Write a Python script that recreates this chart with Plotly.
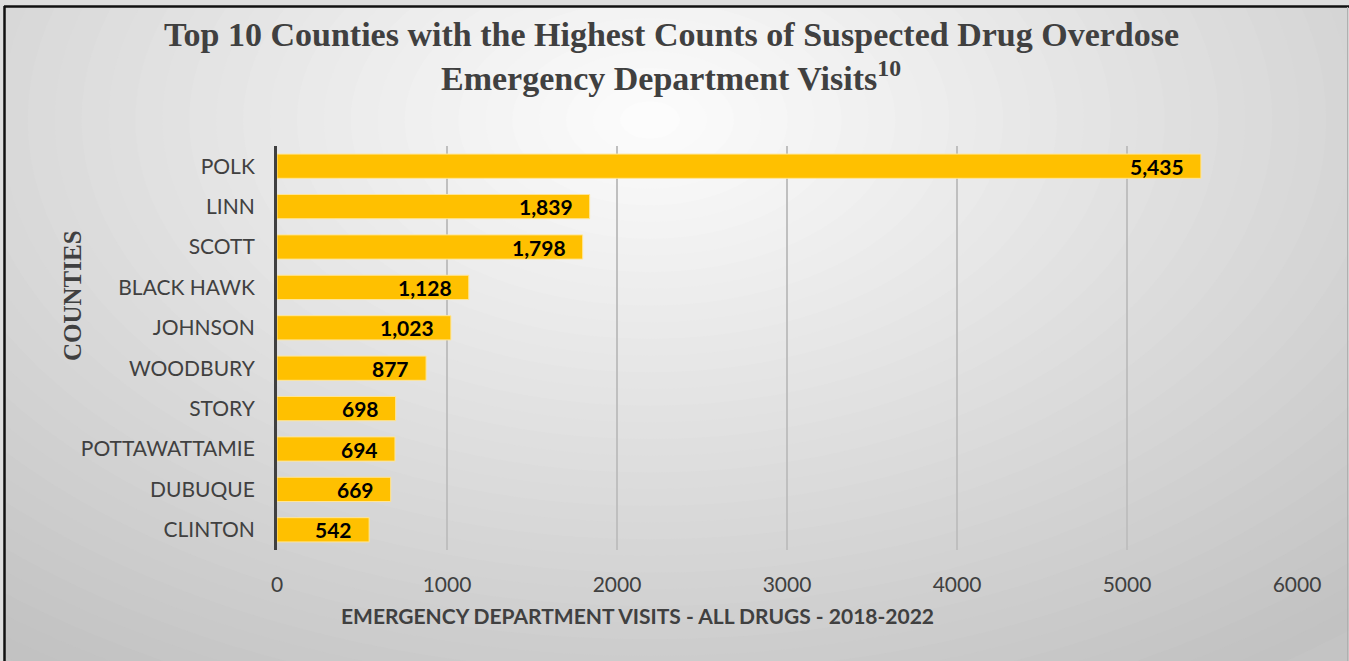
import plotly.graph_objects as go

counties = ["POLK", "LINN", "SCOTT", "BLACK HAWK", "JOHNSON", "WOODBURY",
            "STORY", "POTTAWATTAMIE", "DUBUQUE", "CLINTON"]
visits = [5435, 1839, 1798, 1128, 1023, 877, 698, 694, 669, 542]
x_ticks = [0, 1000, 2000, 3000, 4000, 5000, 6000]

W, H = 1349, 661
ML, MR, MT, MB = 277, 52, 146, 111
PW, PH = W - ML - MR, H - MT - MB


def px(x):
    return (x - ML) / PW


def py(y):
    return (H - MB - y) / PH


fig = go.Figure()
fig.add_trace(go.Bar(
    x=visits, y=counties, orientation="h",
    marker=dict(color="#FFC000", line=dict(color="#FFE699", width=1)),
    width=0.6, hoverinfo="x+y",
))

shapes = []
# radial-ish background gradient
N = 40
edge = (194, 194, 194)
center = (252, 252, 252)
cx, cy = 650, 120
for i in range(N):
    t = i / (N - 1)
    rx = 1050 * (1 - t) + 30
    ry = rx * 0.62
    c = tuple(int(edge[k] + (center[k] - edge[k]) * t) for k in range(3))
    shapes.append(dict(type="circle", xref="paper", yref="paper",
                       x0=px(cx - rx), x1=px(cx + rx), y0=py(cy + ry), y1=py(cy - ry),
                       fillcolor="rgb(%d,%d,%d)" % c, line=dict(width=0), layer="below"))
# outer frame region
shapes.append(dict(type="rect", xref="paper", yref="paper",
                   x0=px(-10), x1=px(4), y0=py(H + 10), y1=py(-10),
                   fillcolor="#dedede", line=dict(width=0), layer="below"))
shapes.append(dict(type="rect", xref="paper", yref="paper",
                   x0=px(-10), x1=px(W + 10), y0=py(6), y1=py(-10),
                   fillcolor="#dedede", line=dict(width=0), layer="below"))
shapes.append(dict(type="line", xref="paper", yref="paper",
                   x0=px(4), x1=px(W + 5), y0=py(6.5), y1=py(6.5),
                   line=dict(color="#111111", width=2.5), layer="below"))
shapes.append(dict(type="line", xref="paper", yref="paper",
                   x0=px(4.5), x1=px(4.5), y0=py(6), y1=py(H + 10),
                   line=dict(color="#111111", width=2.5), layer="below"))
shapes.append(dict(type="line", xref="paper", yref="paper",
                   x0=px(W - 1.5), x1=px(W - 1.5), y0=py(7), y1=py(H + 10),
                   line=dict(color="#b0b0b0", width=1), layer="below"))

title_font = dict(family="Liberation Serif", size=34, color="#404040", weight="bold")
annotations = [
    dict(text="Top 10 Counties with the Highest Counts of Suspected Drug Overdose",
         xref="paper", yref="paper", x=px(671), y=py(35), showarrow=False,
         xanchor="center", yanchor="middle", font=title_font),
    dict(text="Emergency Department Visits<sup>10</sup>",
         xref="paper", yref="paper", x=px(671), y=py(76), showarrow=False,
         xanchor="center", yanchor="middle", font=title_font),
    dict(text="COUNTIES", xref="paper", yref="paper", x=px(72), y=py(296),
         showarrow=False, textangle=-90, xanchor="center", yanchor="middle",
         font=dict(family="Liberation Serif", size=25, color="#404040", weight="bold")),
    dict(text="EMERGENCY DEPARTMENT VISITS - ALL DRUGS - 2018-2022",
         xref="paper", yref="paper", x=px(637), y=py(615), showarrow=False,
         xanchor="center", yanchor="middle",
         font=dict(family="Lato", size=21, color="#404040", weight="bold")),
]
for c, v in zip(counties, visits):
    annotations.append(dict(text=f"{v:,}", x=v, y=c, xref="x", yref="y",
                            showarrow=False, xanchor="right", yanchor="middle",
                            xshift=-15, yshift=0,
                            font=dict(family="Lato", size=21, color="#000000",
                                      weight="bold")))

fig.update_layout(
    width=W, height=H,
    margin=dict(l=ML, r=MR, t=MT, b=MB),
    paper_bgcolor="#c4c4c4", plot_bgcolor="rgba(0,0,0,0)",
    showlegend=False, shapes=shapes, annotations=annotations,
    bargap=0.4,
    xaxis=dict(range=[0, 6000], tickvals=x_ticks, ticktext=[str(t) for t in x_ticks],
               showgrid=True, gridcolor="#bfbfbf", gridwidth=1.5, zeroline=False,
               showline=False, ticks="", ticklabelstandoff=20,
               tickfont=dict(family="Lato", size=21, color="#404040")),
    yaxis=dict(categoryorder="array", categoryarray=counties, autorange="reversed",
               showline=True, linecolor="#404040", linewidth=3, showgrid=False,
               ticks="", ticklabelstandoff=15,
               tickfont=dict(family="Lato", size=21, color="#404040")),
)

fig.write_html("out.html")
